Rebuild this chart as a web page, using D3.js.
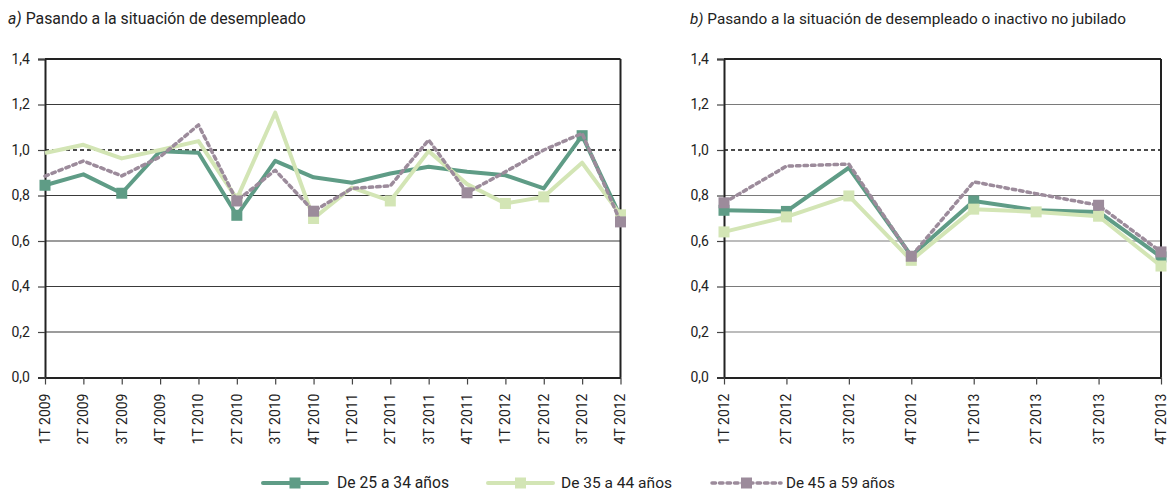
<!DOCTYPE html>
<html>
<head>
<meta charset="utf-8">
<script src="https://cdn.jsdelivr.net/npm/d3@7"></script>
<style>
  html, body { margin: 0; padding: 0; background: #fff; }
  svg { display: block; }
  text { font-family: "Roboto", "Liberation Sans", sans-serif; fill: #222; }
</style>
</head>
<body>
<svg id="chart" width="1168" height="491"></svg>
<script>
// ---- data ----
const catsA = ["1T 2009","2T 2009","3T 2009","4T 2009","1T 2010","2T 2010","3T 2010","4T 2010",
               "1T 2011","2T 2011","3T 2011","4T 2011","1T 2012","2T 2012","3T 2012","4T 2012"];
const a25_34 = [0.845, 0.893, 0.81, 0.995, 0.988, 0.713, 0.952, 0.88, 0.856, 0.897, 0.926, 0.904, 0.889, 0.831, 1.063, 0.706];
const a35_44 = [0.987, 1.023, 0.963, 1.0, 1.039, 0.785, 1.164, 0.699, 0.835, 0.776, 0.995, 0.85, 0.765, 0.794, 0.944, 0.715];
const a45_59 = [0.885, 0.952, 0.886, 0.97, 1.11, 0.776, 0.911, 0.731, 0.831, 0.842, 1.044, 0.812, 0.904, 1.0, 1.073, 0.684];
const aMarks25 = [0, 2, 5, 14, 15];
const aMarks35 = [5, 7, 9, 12, 13, 15];
const aMarks45 = [5, 7, 11, 15];

const catsB = ["1T 2012","2T 2012","3T 2012","4T 2012","1T 2013","2T 2013","3T 2013","4T 2013"];
const b25_34 = [0.735, 0.73, 0.922, 0.535, 0.776, 0.735, 0.728, 0.53];
const b35_44 = [0.64, 0.706, 0.798, 0.515, 0.74, 0.728, 0.709, 0.49];
const b45_59 = [0.768, 0.929, 0.938, 0.533, 0.86, 0.808, 0.757, 0.552];
const bMarks25 = [0, 1, 4, 7];
const bMarks35 = [0, 1, 2, 3, 4, 5, 6, 7];
const bMarks45 = [0, 3, 6, 7];

const yTicks = [0, 0.2, 0.4, 0.6, 0.8, 1.0, 1.2, 1.4];
const seriesNames = ["De 25 a 34 años", "De 35 a 44 años", "De 45 a 59 años"];
const titleA = ["a)", " Pasando a la situación de desempleado"];
const titleB = ["b)", " Pasando a la situación de desempleado o inactivo no jubilado"];

// ---- styles ----
const colors = ["#5f9c86", "#d3e5b5", "#9c8b9b"];
const widths = [4, 4, 3.5];
const dashes = [null, null, "3.5,4"];

const svg = d3.select("#chart");
const fmt = d => d.toFixed(1).replace(".", ",");

// choose a font size so that the text spans the target width
function fitSize(sel, base, target) {
  sel.style("font-size", base + "px");
  const w = sel.node().getComputedTextLength();
  sel.style("font-size", (base * target / w).toFixed(2) + "px");
}

function panel(opts) {
  const { left, right, top, bottom, cats, series, marks, title, titleX, titleW, gridColor } = opts;
  const g = svg.append("g");
  const x = d3.scalePoint().domain(cats).range([left, right]);
  const y = d3.scaleLinear().domain([0, 1.4]).range([bottom, top]);

  // title
  const t = svg.append("text").attr("x", titleX).attr("y", 24);
  t.append("tspan").text(title[0]).style("font-style", "italic");
  t.append("tspan").text(title[1]);
  fitSize(t, 16, titleW);

  // gridlines
  g.selectAll(".grid").data(yTicks.filter(v => v > 0 && v < 1.4 && v !== 1.0)).join("line")
    .attr("x1", left).attr("x2", right)
    .attr("y1", d => y(d)).attr("y2", d => y(d))
    .attr("stroke", gridColor).attr("stroke-width", 1.2);
  g.append("line").attr("x1", left).attr("x2", right).attr("y1", y(1.0)).attr("y2", y(1.0))
    .attr("stroke", "#111").attr("stroke-width", 1.4).attr("stroke-dasharray", "4,3");

  // frame top / right
  g.append("line").attr("x1", left).attr("x2", right).attr("y1", y(1.4)).attr("y2", y(1.4))
    .attr("stroke", "#222").attr("stroke-width", 2);
  g.append("line").attr("x1", right).attr("x2", right).attr("y1", y(1.4)).attr("y2", y(0))
    .attr("stroke", "#222").attr("stroke-width", 2);

  // y axis
  const ya = g.append("g").attr("transform", `translate(${left},0)`)
    .call(d3.axisLeft(y).tickValues(yTicks).tickFormat(fmt).tickSize(7).tickPadding(8));
  ya.select(".domain").attr("stroke", "#222").attr("stroke-width", 2);
  ya.selectAll(".tick line").attr("stroke", "#444").attr("stroke-width", 1.2);
  ya.selectAll("text").style("font-size", "14px").attr("fill", "#222");

  // x axis
  const xa = g.append("g").attr("transform", `translate(0,${bottom})`)
    .call(d3.axisBottom(x).tickSize(7).tickSizeOuter(0));
  xa.select(".domain").attr("stroke", "#222").attr("stroke-width", 2);
  xa.selectAll(".tick line").attr("stroke", "#444").attr("stroke-width", 1.2);
  xa.selectAll("text").style("font-size", "14px").attr("fill", "#222")
    .attr("transform", "rotate(-90)")
    .attr("text-anchor", "end").attr("dy", "0.32em").attr("x", -16).attr("y", 0);

  // series
  const line = d3.line().x((d, i) => x(cats[i])).y(d => y(d));
  series.forEach((s, k) => {
    g.append("path").datum(s).attr("d", line).attr("fill", "none")
      .attr("stroke", colors[k]).attr("stroke-width", widths[k])
      .attr("stroke-dasharray", dashes[k]).attr("stroke-linecap", k === 2 ? "round" : "butt")
      .attr("stroke-linejoin", "round");
    g.selectAll(null).data(marks[k]).join("rect")
      .attr("x", i => x(cats[i]) - 5.5).attr("y", i => y(s[i]) - 5.5)
      .attr("width", 11).attr("height", 11).attr("fill", colors[k]);
  });
}

panel({ left: 45, right: 620.5, top: 59, bottom: 377.5, cats: catsA,
  series: [a25_34, a35_44, a45_59], marks: [aMarks25, aMarks35, aMarks45],
  title: titleA, titleX: 8, titleW: 298, gridColor: "#3a3a3a" });
panel({ left: 724, right: 1161, top: 59, bottom: 377.5, cats: catsB,
  series: [b25_34, b35_44, b45_59], marks: [bMarks25, bMarks35, bMarks45],
  title: titleB, titleX: 690, titleW: 436, gridColor: "#7a7a7a" });

// ---- legend ----
const legendItems = [
  { x1: 263, x2: 327, tx: 337, tw: 112 },
  { x1: 488, x2: 553, tx: 561, tw: 111 },
  { x1: 712, x2: 781, tx: 786, tw: 109 }
];
const ly = 483;
const lg = svg.append("g");
legendItems.forEach((it, k) => {
  lg.append("line").attr("x1", it.x1).attr("x2", it.x2).attr("y1", ly).attr("y2", ly)
    .attr("stroke", colors[k]).attr("stroke-width", widths[k])
    .attr("stroke-dasharray", dashes[k]).attr("stroke-linecap", "round");
  const cx = (it.x1 + it.x2) / 2;
  lg.append("rect").attr("x", cx - 5.5).attr("y", ly - 5.5).attr("width", 11).attr("height", 11)
    .attr("fill", colors[k]);
  const t = lg.append("text").attr("x", it.tx).attr("y", ly).attr("dy", "0.32em").text(seriesNames[k]);
  fitSize(t, 16, it.tw);
});
</script>
</body>
</html>
